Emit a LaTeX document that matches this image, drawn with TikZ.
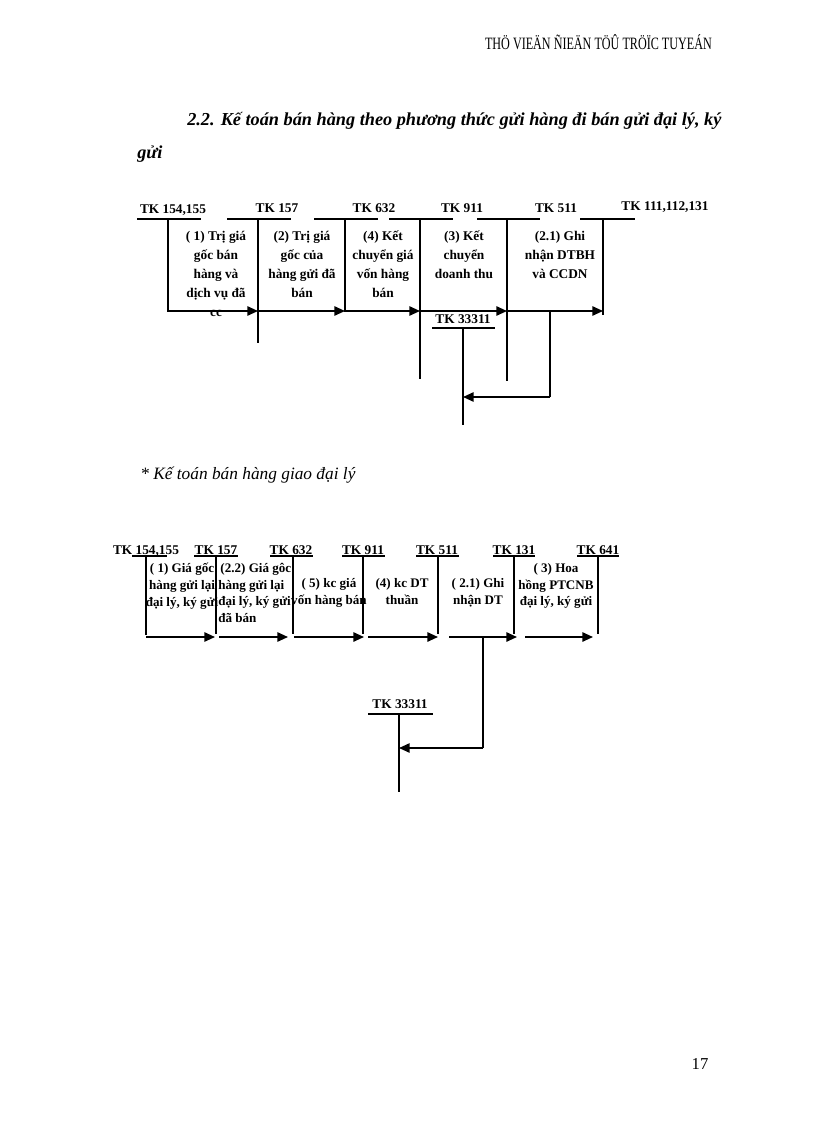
\documentclass[tikz,border=0pt]{standalone}
\usepackage{fontspec}
\setmainfont{Liberation Serif}
\usetikzlibrary{arrows.meta}
\begin{document}
\begin{tikzpicture}[x=0.75pt,y=-0.75pt,
  acc/.style={font=\bfseries\fontsize{10}{12}\selectfont,inner sep=1pt,anchor=base},
  lbl/.style={font=\bfseries\fontsize{10}{14.2}\selectfont,align=center,anchor=north,inner sep=0pt},
  lblb/.style={font=\bfseries\fontsize{9.8}{12.5}\selectfont,align=center,anchor=north,inner sep=0pt},
  ln/.style={line width=0.8pt},
  arr/.style={line width=1.3pt,-{Triangle[length=8pt,width=7pt]}}]
\useasboundingbox (0,0) rectangle (816,1123);
\node[anchor=base east,font=\fontsize{13}{14}\selectfont,inner sep=0,xscale=0.7] (hdr) at (712,50) {THÖ VIEÄN ÑIEÄN TÖÛ TRÖÏC TUYEÁN};
\node[anchor=base west,font=\bfseries\itshape\fontsize{13.7}{14}\selectfont,inner sep=0] (t1) at (187,126) {2.2. Kế toán bán hàng theo phương thức gửi hàng đi bán gửi đại lý, ký};
\node[anchor=base west,font=\bfseries\itshape\fontsize{13.7}{14}\selectfont,inner sep=0] (t2) at (137,159) {gửi};
\node[anchor=base west,font=\itshape\fontsize{13}{14}\selectfont,inner sep=0] (t3) at (140,479) {* Kế toán bán hàng giao đại lý};
\node[anchor=base,font=\fontsize{12.5}{14}\selectfont,inner sep=0] (pg) at (700,1069) {17};

% ---------- top diagram ----------
\node[acc] (a1) at (173,214) {TK 154,155};
\node[acc] (a2) at (277,213) {TK 157};
\node[acc] (a3) at (374,213) {TK 632};
\node[acc] (a4) at (462,213) {TK 911};
\node[acc] (a5) at (556,213) {TK 511};
\node[acc] (a6) at (665,211) {TK 111,112,131};
\draw[ln] (137,219) -- (201,219) (227,219) -- (291,219) (314,219) -- (378,219)
  (389,219) -- (453,219) (477,219) -- (540,219) (580,219) -- (635,219);
\coordinate (v1) at (168,219); \coordinate (v1e) at (168,312);
\coordinate (v2) at (258,219); \coordinate (v2e) at (258,343);
\coordinate (v3) at (345,219); \coordinate (v3e) at (345,312);
\coordinate (v4) at (420,219); \coordinate (v4e) at (420,379);
\coordinate (v5) at (507,219); \coordinate (v5e) at (507,381);
\coordinate (v6) at (603,219); \coordinate (v6e) at (603,315);
\foreach \a/\b in {v1/v1e,v2/v2e,v3/v3e,v4/v4e,v5/v5e,v6/v6e} \draw[ln] (\a) -- (\b);
\coordinate (h1) at (168,311); \coordinate (h2) at (258,311); \coordinate (h3) at (345,311);
\coordinate (h4) at (420,311); \coordinate (h5) at (507,311); \coordinate (h6) at (603,311);
\draw[arr] (h1) -- (h2); \draw[arr] (h2) -- (h3); \draw[arr] (h3) -- (h4);
\draw[arr] (h4) -- (h5); \draw[arr] (h5) -- (h6);
\node[lbl] (l1) at (216,231) {( 1) Trị giá\\gốc bán\\hàng và\\dịch vụ đã\\cc};
\node[lbl] (l2) at (302,231) {(2) Trị giá\\gốc của\\hàng gửi đã\\bán};
\node[lbl] (l3) at (383,231) {(4) Kết\\chuyển giá\\vốn hàng\\bán};
\node[lbl] (l4) at (464,231) {(3) Kết\\chuyển\\doanh thu};
\node[lbl] (l5) at (560,231) {(2.1) Ghi\\nhận DTBH\\và CCDN};
\node[acc] (a7) at (463,323) {TK 33311};
\draw[ln] (432,328) -- (495,328);
\coordinate (k1) at (463,328); \coordinate (k1e) at (463,425);
\draw[ln] (k1) -- (k1e);
\coordinate (b1) at (550,311); \coordinate (b2) at (550,397); \coordinate (b3) at (463,397);
\draw[line width=1.3pt] (b1) -- (b2);
\draw[arr] (b2) -- (b3);

% ---------- bottom diagram ----------
\node[acc] (c1) at (146,554) {TK 154,155};
\node[acc] (c2) at (216,554) {TK 157};
\node[acc] (c3) at (291,554) {TK 632};
\node[acc] (c4) at (363,554) {TK 911};
\node[acc] (c5) at (437,554) {TK 511};
\node[acc] (c6) at (514,554) {TK 131};
\node[acc] (c7) at (598,554) {TK 641};
\draw[ln] (132,556) -- (167,556) (194,556) -- (238,556) (270,556) -- (313,556)
  (342,556) -- (385,556) (416,556) -- (459,556) (493,556) -- (535,556) (577,556) -- (619,556);
\coordinate (w1) at (146,556); \coordinate (w1e) at (146,635);
\coordinate (w2) at (216,556); \coordinate (w2e) at (216,634);
\coordinate (w3) at (293,556); \coordinate (w3e) at (293,634);
\coordinate (w4) at (363,556); \coordinate (w4e) at (363,634);
\coordinate (w5) at (438,556); \coordinate (w5e) at (438,634);
\coordinate (w6) at (514,556); \coordinate (w6e) at (514,634);
\coordinate (w7) at (598,556); \coordinate (w7e) at (598,634);
\foreach \a/\b in {w1/w1e,w2/w2e,w3/w3e,w4/w4e,w5/w5e,w6/w6e,w7/w7e} \draw[ln] (\a) -- (\b);
\coordinate (p1) at (146,637); \coordinate (p1e) at (215,637);
\coordinate (p2) at (219,637); \coordinate (p2e) at (288,637);
\coordinate (p3) at (294,637); \coordinate (p3e) at (364,637);
\coordinate (p4) at (368,637); \coordinate (p4e) at (438,637);
\coordinate (p5) at (449,637); \coordinate (p5e) at (517,637);
\coordinate (p6) at (525,637); \coordinate (p6e) at (593,637);
\foreach \a/\b in {p1/p1e,p2/p2e,p3/p3e,p4/p4e,p5/p5e,p6/p6e} \draw[arr] (\a) -- (\b);
\node[lblb] (m1) at (182,563) {( 1) Giá gốc\\hàng gửi lại\\đại lý, ký gửi};
\node[lblb,align=left,anchor=north west] (m2) at (218,563) {\,(2.2) Giá gôc\\hàng gửi lại\\đại lý, ký gửi\\đã bán};
\node[lblb] (m3) at (329,578) {( 5) kc giá\\vốn hàng bán};
\node[lblb] (m4) at (402,578) {(4) kc DT\\thuần};
\node[lblb] (m5) at (478,578) {( 2.1) Ghi\\nhận DT};
\node[lblb] (m6) at (556,563) {( 3) Hoa\\hồng PTCNB\\đại lý, ký gửi};
\node[acc] (c8) at (400,708) {TK 33311};
\draw[ln] (368,714) -- (433,714);
\coordinate (q1) at (399,714); \coordinate (q1e) at (399,792);
\draw[ln] (q1) -- (q1e);
\coordinate (d1) at (483,637); \coordinate (d2) at (483,748); \coordinate (d3) at (399,748);
\draw[line width=1.3pt] (d1) -- (d2);
\draw[arr] (d2) -- (d3);
\end{tikzpicture}
\end{document}
